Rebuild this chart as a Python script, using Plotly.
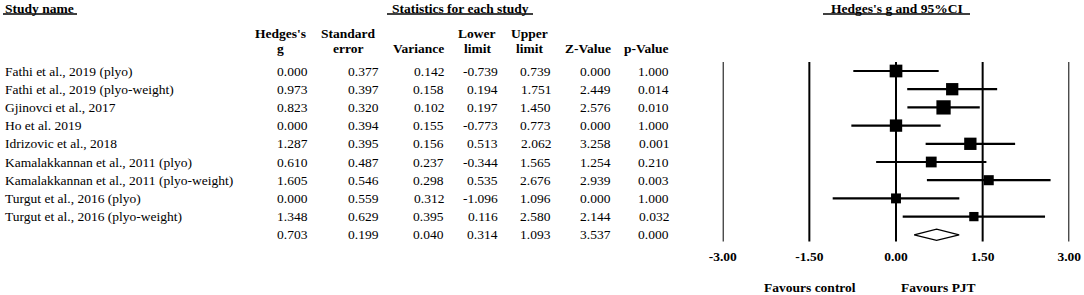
import plotly.graph_objects as go
import numpy as np

# ---- data ----
studies = [
    "Fathi et al., 2019 (plyo)",
    "Fathi et al., 2019 (plyo-weight)",
    "Gjinovci et al., 2017",
    "Ho et al. 2019",
    "Idrizovic et al., 2018",
    "Kamalakkannan et al., 2011 (plyo)",
    "Kamalakkannan et al., 2011 (plyo-weight)",
    "Turgut et al., 2016 (plyo)",
    "Turgut et al., 2016 (plyo-weight)",
]
hedges_g = [0.000, 0.973, 0.823, 0.000, 1.287, 0.610, 1.605, 0.000, 1.348]
std_err = [0.377, 0.397, 0.320, 0.394, 0.395, 0.487, 0.546, 0.559, 0.629]
variance = [0.142, 0.158, 0.102, 0.155, 0.156, 0.237, 0.298, 0.312, 0.395]
lower = [-0.739, 0.194, 0.197, -0.773, 0.513, -0.344, 0.535, -1.096, 0.116]
upper = [0.739, 1.751, 1.450, 0.773, 2.062, 1.565, 2.676, 1.096, 2.580]
z_value = [0.000, 2.449, 2.576, 0.000, 3.258, 1.254, 2.939, 0.000, 2.144]
p_value = [1.000, 0.014, 0.010, 1.000, 0.001, 0.210, 0.003, 1.000, 0.032]

summary = dict(g=0.703, se=0.199, var=0.040, lower=0.314, upper=1.093, z=3.537, p=0.000)

tick_vals = [-3.0, -1.5, 0.0, 1.5, 3.0]

# ---- layout helpers ----
W, H = 1084, 295
FONT = "Liberation Serif"
FS = 13.5
ROW0, ROWH = 71.0, 18.2          # pixel y of first row, row spacing
PLOT_BOTTOM = 246.0              # pixel y of plot-area bottom


def px_x(p):
    return p / W


def px_y(p):
    return 1 - p / H


def row_of(py):
    return (py - ROW0) / ROWH


n = len(studies)
rows = list(range(n))
sum_row = n

fig = go.Figure()

# CI lines + squares
w = 1 / np.array(variance)
sizes = 4.1 + 3.25 * np.sqrt(w)
fig.add_trace(go.Scatter(
    x=hedges_g, y=rows, mode="markers",
    marker=dict(symbol="square", size=sizes, color="#000000", opacity=1,
                line=dict(width=0)),
    error_x=dict(type="data", symmetric=False,
                 array=[u - g for u, g in zip(upper, hedges_g)],
                 arrayminus=[g - l for g, l in zip(hedges_g, lower)],
                 width=0, thickness=2.2, color="#000000"),
    showlegend=False, hoverinfo="skip",
))

# summary diamond
dh = 0.31
fig.add_trace(go.Scatter(
    x=[summary["lower"], summary["g"], summary["upper"], summary["g"], summary["lower"]],
    y=[sum_row, sum_row - dh, sum_row, sum_row + dh, sum_row],
    mode="lines", fill="toself", fillcolor="white",
    line=dict(color="black", width=1.3),
    showlegend=False, hoverinfo="skip",
))

shapes = []
# vertical reference lines
for tv in tick_vals:
    shapes.append(dict(type="line", xref="x", yref="y", x0=tv, x1=tv,
                       y0=row_of(62), y1=row_of(241.5),
                       line=dict(color="black", width=2), layer="below"))

annotations = []


def txt(text, x_px, y, xanchor="left", bold=False, yref="y"):
    annotations.append(dict(
        text=f"<b>{text}</b>" if bold else text,
        x=px_x(x_px), xref="paper",
        y=y if yref == "y" else px_y(y), yref=yref,
        xanchor=xanchor, yanchor="middle", showarrow=False,
        font=dict(family=FONT, size=FS, color="black"),
    ))


# headings with underlines
txt("Study name", 3, 8.5, "left", True, "paper")
shapes.append(dict(type="line", xref="paper", yref="paper",
                   x0=px_x(3), x1=px_x(77), y0=px_y(14), y1=px_y(14),
                   line=dict(color="black", width=1.5)))
txt("Statistics for each study", 460, 8.5, "center", True, "paper")
shapes.append(dict(type="line", xref="paper", yref="paper",
                   x0=px_x(387), x1=px_x(533), y0=px_y(14), y1=px_y(14),
                   line=dict(color="black", width=1.5)))
txt("Hedges's g and 95%CI", 896.5, 8.5, "center", True, "paper")
shapes.append(dict(type="line", xref="paper", yref="paper",
                   x0=px_x(823), x1=px_x(970), y0=px_y(14), y1=px_y(14),
                   line=dict(color="black", width=1.5)))

# column headers (two lines)
col_right = [309.5, 380.5, 446, 500, 552.5, 612.5, 670.5]
head_center = [280, 348, 418, 477, 529, 588, 646]
head_top = ["Hedges's", "Standard", "", "Lower", "Upper", "", ""]
head_bot = ["g", "error", "Variance", "limit", "limit", "Z-Value", "p-Value"]
for c, t1, t2 in zip(head_center, head_top, head_bot):
    if t1:
        txt(t1, c, 33, "center", True, "paper")
    txt(t2, c, 48, "center", True, "paper")

# study names
for r, name in zip(rows, studies):
    txt(name, 3, r)

# numeric columns
cols = [hedges_g, std_err, variance, lower, upper, z_value, p_value]
for xr, vals in zip(col_right, cols):
    for r, v in zip(rows, vals):
        txt(f"{v:.3f}", xr, r, "right")
sum_vals = [summary[k] for k in ["g", "se", "var", "lower", "upper", "z", "p"]]
for xr, v in zip(col_right, sum_vals):
    txt(f"{v:.3f}", xr, sum_row, "right")

# favours labels
txt("Favours control", 810, 287, "center", True, "paper")
txt("Favours PJT", 938, 287, "center", True, "paper")

fig.update_layout(
    width=W, height=H,
    margin=dict(l=0, r=0, t=0, b=0, pad=0, autoexpand=False),
    paper_bgcolor="white", plot_bgcolor="white",
    shapes=shapes, annotations=annotations,
    xaxis=dict(domain=[722.7 / W, 1069.3 / W], range=[-3, 3],
               tickvals=tick_vals,
               ticktext=[f"<b>{v:.2f}</b>" for v in tick_vals],
               showgrid=False, zeroline=False, showline=False, ticks="",
               tickfont=dict(family=FONT, size=FS, color="black"),
               ticklabelstandoff=0, automargin=False, fixedrange=True),
    yaxis=dict(domain=[1 - PLOT_BOTTOM / H, 1],
               range=[row_of(PLOT_BOTTOM), row_of(0)],
               visible=False, automargin=False, fixedrange=True),
    font=dict(family=FONT, size=FS, color="black"),
)

fig.write_html("out.html",
               config={"displayModeBar": False},
               post_script="document.body.style.margin='0';"
                           "document.body.style.padding='0';")
